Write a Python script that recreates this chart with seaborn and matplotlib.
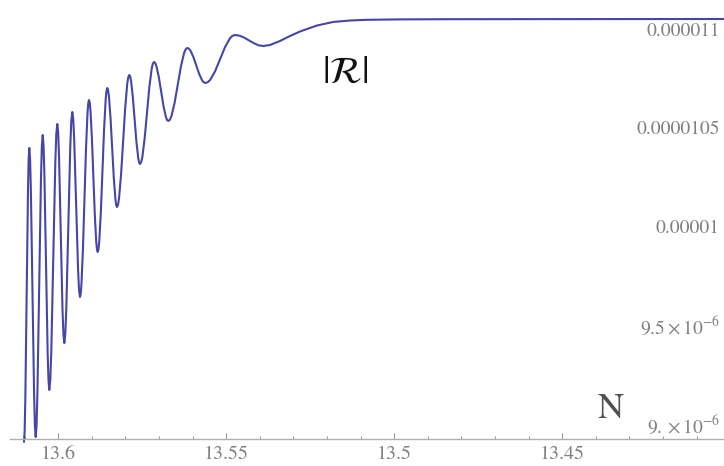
import numpy as np
import pandas as pd
import matplotlib
matplotlib.use("Agg")
import matplotlib.pyplot as plt
import seaborn as sns
from matplotlib.ticker import FixedLocator, FixedFormatter, MultipleLocator

# e-fold number N and |R| (in units of 1e-6) along the curve
n_vals = [
    13.61021, 13.60981, 13.60942, 13.60902, 13.60863, 13.60816, 13.60768, 13.60720,
    13.60673, 13.60621, 13.60569, 13.60516, 13.60464, 13.60415, 13.60366, 13.60317,
    13.60268, 13.60208, 13.60149, 13.60089, 13.60030, 13.59978, 13.59926, 13.59874,
    13.59821, 13.59762, 13.59702, 13.59643, 13.59583, 13.59527, 13.59469, 13.59411,
    13.59354, 13.59310, 13.59265, 13.59220, 13.59176, 13.59131, 13.59086, 13.59043,
    13.59000, 13.58957, 13.58914, 13.58871, 13.58827, 13.58780, 13.58732, 13.58685,
    13.58637, 13.58589, 13.58542, 13.58494, 13.58446, 13.58397, 13.58349, 13.58301,
    13.58253, 13.58192, 13.58131, 13.58070, 13.58009, 13.57948, 13.57887, 13.57834,
    13.57781, 13.57728, 13.57675, 13.57621, 13.57569, 13.57499, 13.57430, 13.57360,
    13.57291, 13.57221, 13.57152, 13.57081, 13.57010, 13.56939, 13.56868, 13.56797,
    13.56726, 13.56632, 13.56538, 13.56444, 13.56349, 13.56255, 13.56161, 13.56071,
    13.55982, 13.55893, 13.55804, 13.55714, 13.55625, 13.55478, 13.55330, 13.55183,
    13.55036, 13.54888, 13.54741, 13.54601, 13.54461, 13.54320, 13.54179, 13.54039,
    13.53899, 13.53699, 13.53402, 13.53104, 13.52807, 13.52301, 13.51824, 13.51319,
    13.50813, 13.49830, 13.48342, 13.45366, 13.40188,
]
r_vals = [
    8.9068, 9.1247, 9.6518, 10.1789, 10.3969, 10.1825, 9.6645, 9.1465,
    8.9321, 9.1561, 9.6974, 10.2387, 10.4627, 10.2737, 9.8165, 9.3594,
    9.1703, 9.3675, 9.8444, 10.3213, 10.5185, 10.3558, 9.9635, 9.5712,
    9.4085, 9.5798, 9.9939, 10.4080, 10.5793, 10.4420, 10.1105, 9.7790,
    9.6417, 9.7086, 9.8913, 10.1409, 10.3905, 10.5732, 10.6401, 10.5884,
    10.4475, 10.2549, 10.0623, 9.9214, 9.8697, 9.9255, 10.0776, 10.2854,
    10.4932, 10.6452, 10.7010, 10.6604, 10.5502, 10.3994, 10.2486, 10.1384,
    10.0978, 10.1424, 10.2651, 10.4323, 10.5996, 10.7223, 10.7669, 10.7364,
    10.6541, 10.5413, 10.4285, 10.3462, 10.3158, 10.3502, 10.4450, 10.5743,
    10.7035, 10.7983, 10.8327, 10.8125, 10.7580, 10.6832, 10.6085, 10.5540,
    10.5337, 10.5585, 10.6262, 10.7187, 10.8112, 10.8789, 10.9037, 10.8920,
    10.8594, 10.8150, 10.7707, 10.7380, 10.7263, 10.7425, 10.7871, 10.8479,
    10.9088, 10.9534, 10.9696, 10.9660, 10.9557, 10.9417, 10.9278, 10.9174,
    10.9138, 10.9189, 10.9392, 10.9645, 10.9873, 11.0177, 11.0355, 11.0431,
    11.0466, 11.0487, 11.0497, 11.0502, 11.0507,
]

# extra readings close to each peak and trough
n_tips = [
    13.61001, 13.60883, 13.60839, 13.60696, 13.60647, 13.60490, 13.60440, 13.60292,
    13.60238, 13.60060, 13.60004, 13.59847, 13.59792, 13.59613, 13.59555, 13.59383,
    13.59332, 13.59109, 13.59065, 13.58849, 13.58804, 13.58565, 13.58518, 13.58277,
    13.58222, 13.57917, 13.57860, 13.57595, 13.57534, 13.57187, 13.57116, 13.56762,
    13.56679, 13.56208, 13.56116, 13.55670, 13.55551, 13.54815,
]
r_tips = [
    8.9635, 10.3401, 10.3411, 8.9878, 8.9904, 10.4045, 10.4136, 9.2195,
    9.2215, 10.4673, 10.4764, 9.4506, 9.4531, 10.5347, 10.5438, 9.6771,
    9.6586, 10.6232, 10.6270, 9.8829, 9.8839, 10.6868, 10.6908, 10.1080,
    10.1090, 10.7557, 10.7593, 10.3234, 10.3244, 10.8241, 10.8277, 10.5388,
    10.5400, 10.8974, 10.9007, 10.7293, 10.7304, 10.9655,
]

x_ticks = [13.6, 13.55, 13.5, 13.45]
x_tick_labels = ["13.6", "13.55", "13.5", "13.45"]
y_ticks = [9.0e-6, 9.5e-6, 1.0e-5, 1.05e-5, 1.1e-5]
y_tick_labels = [r"$9.\times10^{-6}$", r"$9.5\times10^{-6}$", "0.00001", "0.0000105", "0.000011"]

df = pd.DataFrame({
    "N": n_vals + n_tips,
    "R": np.array(r_vals + r_tips) * 1e-6,
})

sns.set_style("white")
plt.rcParams["font.family"] = ["STIXGeneral", "DejaVu Serif"]
plt.rcParams["mathtext.fontset"] = "stix"

fig = plt.figure(figsize=(7.24, 4.66), dpi=100)
ax = fig.add_axes([0, 0, 1, 1])

sns.lineplot(data=df, x="N", y="R", sort=True, estimator=None,
             color="#4646a6", linewidth=1.5, ax=ax)

ax.set_xlim(13.61735, 13.40187)
ax.set_ylim(8.785e-6, 11.147e-6)
ax.set_xlabel("")
ax.set_ylabel("")

for side in ("top", "left", "right"):
    ax.spines[side].set_visible(False)
ax.spines["bottom"].set_position(("data", 8.922e-6))
ax.spines["bottom"].set_bounds(13.6144, 13.40187)
ax.spines["bottom"].set_color("#b0b0b0")
ax.spines["bottom"].set_linewidth(1.0)

ax.xaxis.set_major_locator(FixedLocator(x_ticks))
ax.xaxis.set_major_formatter(FixedFormatter(x_tick_labels))
ax.xaxis.set_minor_locator(MultipleLocator(0.01))
ax.tick_params(axis="x", which="major", direction="in", length=4, width=0.8,
               color="#999999", labelcolor="#808080", labelsize=14.5, pad=5,
               bottom=True)
ax.tick_params(axis="x", which="minor", direction="in", length=2.5, width=0.7,
               color="#999999", bottom=True)

ax.yaxis.tick_right()
ax.yaxis.set_major_locator(FixedLocator(y_ticks))
ax.yaxis.set_major_formatter(FixedFormatter(y_tick_labels))
ax.tick_params(axis="y", which="both", length=0, pad=-3, labelcolor="#808080",
               labelsize=14)
for lab in ax.get_yticklabels():
    lab.set_horizontalalignment("right")

ax.text(0.8439, 0.1223, "N", transform=ax.transAxes, fontsize=26,
        color="#505050", ha="center", va="center")
ax.text(0.4765, 0.8433, r"$|\mathcal{R}|$", transform=ax.transAxes, fontsize=27,
        color="#111111", ha="center", va="center")

fig.savefig("out.png", dpi=100)
